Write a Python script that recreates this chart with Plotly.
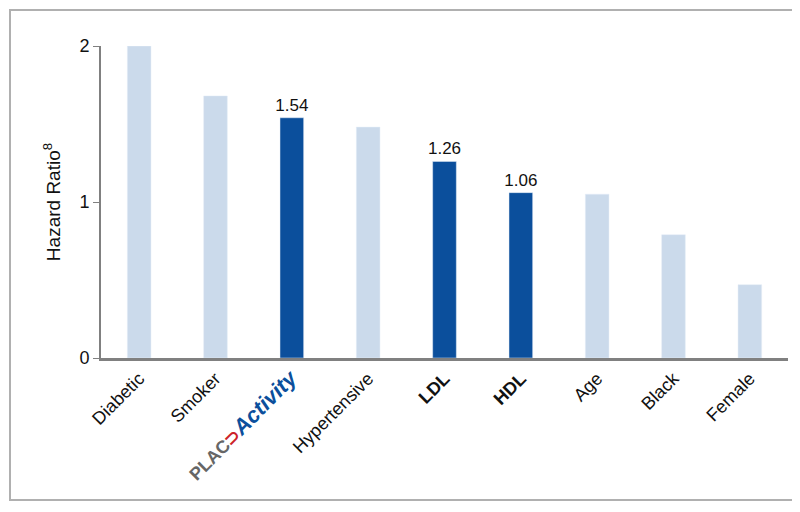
import plotly.graph_objects as go

categories = ["Diabetic", "Smoker", "PLAC", "Hypertensive", "LDL", "HDL", "Age", "Black", "Female"]
hazard = [2.0, 1.68, 1.54, 1.48, 1.26, 1.06, 1.05, 0.79, 0.47]
highlight = [False, False, True, False, True, True, False, False, False]
tick_labels = [
    "Diabetic", "Smoker",
    "<span style='color:#666666'><b>PLAC</b></span><span style='color:#cc1f2a'><b>⊃</b></span>"
    "<span style='color:#0b4f9c;font-size:22px'><b><i>Activity</i></b></span>",
    "Hypertensive", "<b>LDL</b>", "<b>HDL</b>", "Age", "Black", "Female",
]

dark, light = "#0b4f9c", "#cbdaeb"
colors = [dark if h else light for h in highlight]
texts = [f"{v:.2f}" if h else "" for v, h in zip(hazard, highlight)]

fig = go.Figure(go.Bar(
    x=list(range(len(categories))), y=hazard, marker_color=colors, width=0.31,
    text=texts, textposition="outside", textfont=dict(size=17, color="#111111"),
    constraintext="none", cliponaxis=False,
))

W, H, L, R, T, B = 800, 512, 93, 20, 38, 162
pw, ph = W - L - R, H - T - B
fig.add_shape(type="rect", xref="paper", yref="paper",
              x0=-(L - 2) / pw, x1=1 + (R - 12) / pw, y0=-(B - 20) / ph, y1=1 + (T - 2) / ph,
              line=dict(color="#b0b0b0", width=2))

fig.update_layout(
    width=W, height=H, margin=dict(l=L, r=R, t=T, b=B),
    plot_bgcolor="white", paper_bgcolor="white",
    font=dict(family="Liberation Sans, Arial", size=18, color="#111111"),
    showlegend=False,
    xaxis=dict(tickmode="array", tickvals=list(range(len(categories))), ticktext=tick_labels,
               tickangle=-45, range=[-0.5, 8.5], showline=True, linecolor="#808080",
               linewidth=3, ticks="", showgrid=False),
    yaxis=dict(range=[0, 2], tickvals=[0, 1, 2], showline=True, linecolor="#808080",
               linewidth=2, ticks="outside", ticklen=6, tickcolor="#808080", showgrid=False,
               zeroline=False,
               title=dict(text="Hazard Ratio<sup>8</sup>", standoff=14, font=dict(size=19))),
)

fig.write_html("out.html")
